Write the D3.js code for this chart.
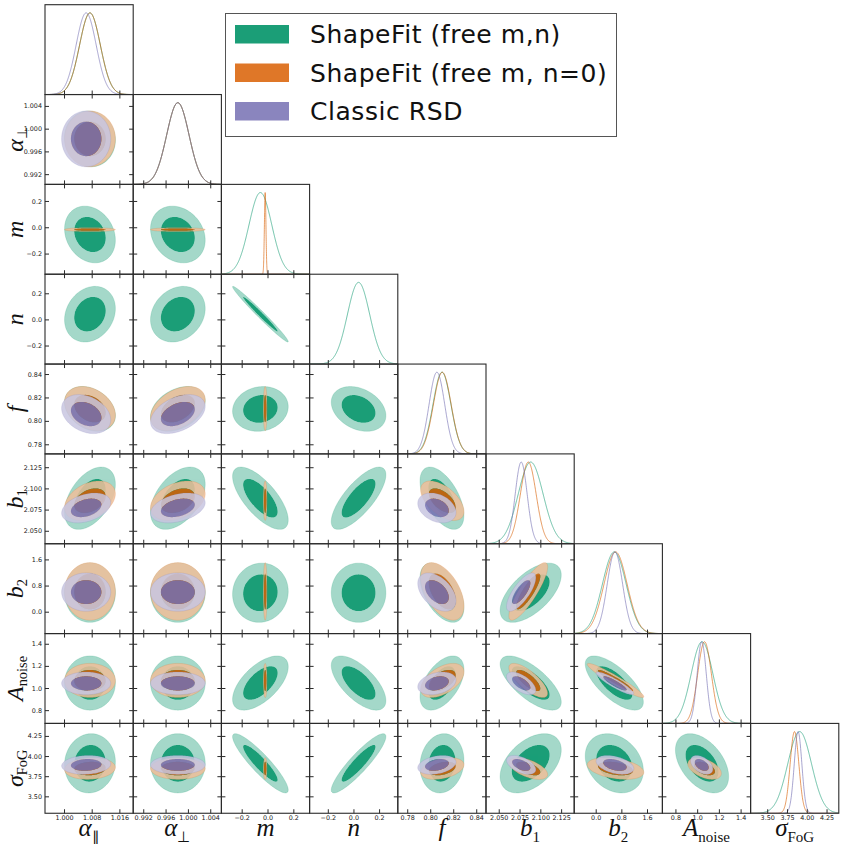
<!DOCTYPE html>
<html><head><meta charset="utf-8">
<script src="https://cdn.jsdelivr.net/npm/d3@7"></script>
<style>body{margin:0;background:#fff}</style>
</head><body>
<svg id="c" width="843" height="844"></svg>
<script>
// ---------------- data ----------------
const paramNames = ["alpha_par","alpha_perp","m","n","f","b1","b2","A_noise","sigma_FoG"];
const ranges = [[0.9945,1.0200],[0.9902,1.0060],[-0.357,0.326],[-0.342,0.346],[0.7718,0.8485],[2.0347,2.1407],[-0.67,2.08],[0.68,1.492],[3.29,4.405]];
const tickValues = [[1.000,1.008,1.016],[0.992,0.996,1.000,1.004],[-0.2,0.0,0.2],[-0.2,0.0,0.2],[0.78,0.80,0.82,0.84],[2.050,2.075,2.100,2.125],[0.0,0.8,1.6],[0.8,1.0,1.2,1.4],[3.50,3.75,4.00,4.25]];
const tickFormats = [".3f",".3f",".1f",".1f",".2f",".3f",".1f",".1f",".2f"];

const seriesNames = ["ShapeFit (free m,n)","ShapeFit (free m, n=0)","Classic RSD"];
const seriesColors = ["#1b9e77","#d95f02","#7570b3"];
const seriesAlpha = [1.0, 0.85, 0.85];

// means / standard deviations per parameter (null = not sampled)
const meanFreeMN   = [1.0075, 0.9982, -0.055, 0.040, 0.8102, 2.0884, 0.58, 1.045, 3.910];
const sdFreeMN     = [0.0030, 0.0020,  0.088, 0.087, 0.0078, 0.0150, 0.37, 0.100, 0.150];
const meanFreeM    = [1.0075, 0.9982, -0.018, null,  0.8105, 2.0855, 0.62, 1.068, 3.845];
const sdFreeM      = [0.0030, 0.0020,  0.006, null,  0.0077, 0.0095, 0.36, 0.063, 0.055];
const meanClassic  = [1.0064, 0.9982,  null,  null,  0.8058, 2.0770, 0.60, 1.042, 3.890];
const sdClassic    = [0.0029, 0.0020,  null,  null,  0.0068, 0.0072, 0.24, 0.042, 0.048];

// lower-triangle correlations: row j lists corr(param j, param i) for i<j
const corrFreeMN = [[],
  [-0.05],
  [-0.20,-0.20],
  [ 0.20, 0.20,-0.985],
  [-0.30, 0.35, 0.10,-0.30],
  [ 0.45, 0.45,-0.70, 0.75,-0.55],
  [ 0.00, 0.00, 0.05, 0.00,-0.50, 0.60],
  [ 0.00, 0.00, 0.60,-0.65, 0.50,-0.70,-0.70],
  [ 0.05, 0.00,-0.90, 0.90, 0.10, 0.45,-0.25,-0.45]];
const corrFreeM = [[],
  [0.00],
  [0.00,0.00],
  [null,null,null],
  [-0.30,0.40,0.00,null],
  [0.35,0.35,0.00,null,-0.55],
  [0.00,0.00,0.00,null,-0.50,0.85],
  [0.00,0.00,0.00,null,0.50,-0.75,-0.95],
  [0.10,0.00,0.00,null,0.35,-0.55,-0.35,-0.45]];
const corrClassic = [[],
  [0.00],
  [null,null],
  [null,null,null],
  [-0.30,0.40,null,null],
  [0.35,0.35,null,null,-0.30],
  [0.00,0.00,null,null,-0.45,0.75],
  [0.00,0.00,null,null,0.30,-0.60,-0.90],
  [0.10,0.00,null,null,0.30,-0.50,-0.40,-0.45]];

const seriesMeans = [meanFreeMN, meanFreeM, meanClassic];
const seriesSds = [sdFreeMN, sdFreeM, sdClassic];
const seriesCorr = [corrFreeMN, corrFreeM, corrClassic];
const contourRadii = [2.45, 1.52]; // 95% and 68% 2D levels (in sigma units)

// ---------------- layout ----------------
const svg = d3.select("#c");
const N = 9, L = 45, T = 4.7, CW = 88.2, CH = 89.84;
const frameColor = "#2b2b2b";
const tickFont = 6.4;
let clipId = 0;

function lighten(col) { return d3.interpolateRgb(col, "#ffffff")(0.6); }

function addClip(x, y, w, h) {
  const id = "clip" + (clipId++);
  svg.append("clipPath").attr("id", id).append("rect").attr("x", x).attr("y", y).attr("width", w).attr("height", h);
  return "url(#" + id + ")";
}

const ang = d3.range(0, 121).map(k => k / 120 * 2 * Math.PI);

for (let r = 0; r < N; r++) {
  for (let c = 0; c <= r; c++) {
    const x0 = L + c * CW, y0 = T + r * CH;
    const xs = d3.scaleLinear().domain(ranges[c]).range([x0, x0 + CW]);
    const g = svg.append("g");
    const inner = g.append("g").attr("clip-path", addClip(x0, y0, CW, CH));
    if (r === c) {
      const ys = d3.scaleLinear().domain([0, 1.1]).range([y0 + CH, y0]);
      const xsamp = d3.range(0, 401).map(k => ranges[c][0] + (ranges[c][1] - ranges[c][0]) * k / 400);
      seriesMeans.forEach((means, s) => {
        const mu = means[c], sd = seriesSds[s][c];
        if (mu === null) return;
        let pts = xsamp.slice();
        if (sd < (ranges[c][1]-ranges[c][0]) / 60) {
          pts = pts.concat(d3.range(0, 201).map(k => mu - 5*sd + 10*sd*k/200)).sort((a,b)=>a-b);
        }
        const line = d3.line().x(v => xs(v)).y(v => ys(Math.exp(-0.5 * ((v - mu) / sd) ** 2)));
        inner.append("path").attr("d", line(pts)).attr("fill", "none")
          .attr("stroke", seriesColors[s]).attr("stroke-width", 1).attr("stroke-opacity", 0.62);
      });
      g.append("g").attr("transform", `translate(0,${y0 + CH})`)
        .call(d3.axisBottom(xs).tickValues(tickValues[c]).tickSizeInner(-4).tickSizeOuter(0).tickFormat(""))
        .call(a => a.select(".domain").remove())
        .selectAll("line").attr("stroke", frameColor);
    } else {
      const ys = d3.scaleLinear().domain(ranges[r]).range([y0 + CH, y0]);
      seriesMeans.forEach((means, s) => {
        const mx = means[c], my = means[r];
        if (mx === null || my === null) return;
        const sx = seriesSds[s][c], sy = seriesSds[s][r];
        const rho = seriesCorr[s][r][c];
        if (rho === null) return;
        const q = Math.sqrt(1 - rho * rho);
        const line = d3.line().x(p => xs(p[0])).y(p => ys(p[1])).curve(d3.curveLinearClosed);
        const ring = k => line(ang.map(t => {
          const u = Math.cos(t), v = Math.sin(t);
          return [mx + k * sx * u, my + k * sy * (rho * u + q * v)];
        }));
        const outerD = ring(contourRadii[0]), innerD = ring(contourRadii[1]);
        const sg = inner.append("g").attr("opacity", seriesAlpha[s]);
        sg.append("path").attr("d", outerD + innerD).attr("fill-rule", "evenodd")
          .attr("fill", lighten(seriesColors[s]));
        sg.append("path").attr("d", innerD).attr("fill", seriesColors[s]);
        sg.append("path").attr("d", outerD).attr("fill", "none")
          .attr("stroke", seriesColors[s]).attr("stroke-opacity", 0.3).attr("stroke-width", 0.6);
      });
      const tk = (axis, tr) => g.append("g").attr("transform", tr)
        .call(axis.tickSizeOuter(0).tickFormat(""))
        .call(a => a.select(".domain").remove())
        .selectAll("line").attr("stroke", frameColor);
      tk(d3.axisBottom(xs).tickValues(tickValues[c]).tickSizeInner(-4), `translate(0,${y0 + CH})`);
      tk(d3.axisTop(xs).tickValues(tickValues[c]).tickSizeInner(-4), `translate(0,${y0})`);
      tk(d3.axisLeft(ys).tickValues(tickValues[r]).tickSizeInner(-4), `translate(${x0},0)`);
      tk(d3.axisRight(ys).tickValues(tickValues[r]).tickSizeInner(-4), `translate(${x0 + CW},0)`);
      if (c === 0) {
        g.append("g").attr("transform", `translate(${x0},0)`)
          .call(d3.axisLeft(ys).tickValues(tickValues[r]).tickSizeInner(0).tickSizeOuter(0).tickPadding(3)
            .tickFormat(d3.format(tickFormats[r])))
          .call(a => a.select(".domain").remove())
          .selectAll("text").attr("font-family", "DejaVu Sans").attr("font-size", tickFont).attr("fill", "#222");
      }
    }
    if (r === N - 1) {
      g.append("g").attr("transform", `translate(0,${y0 + CH})`)
        .call(d3.axisBottom(xs).tickValues(tickValues[c]).tickSizeInner(0).tickSizeOuter(0).tickPadding(2)
          .tickFormat(d3.format(tickFormats[c])))
        .call(a => a.select(".domain").remove())
        .selectAll("text").attr("font-family", "DejaVu Sans").attr("font-size", tickFont).attr("fill", "#222");
    }
    g.append("rect").attr("x", x0).attr("y", y0).attr("width", CW).attr("height", CH)
      .attr("fill", "none").attr("stroke", frameColor).attr("stroke-width", 1.1);
  }
}

// ---------------- axis labels ----------------
const labelDefs = [
  {main: "α", sub: "∥"}, {main: "α", sub: "⊥"}, {main: "m", sub: ""}, {main: "n", sub: ""},
  {main: "f", sub: ""}, {main: "b", sub: "1"}, {main: "b", sub: "2"},
  {main: "A", sub: "noise"}, {main: "σ", sub: "FoG"}
];
function writeLabel(sel, d, size, subDy) {
  sel.attr("font-family", "Liberation Serif").attr("font-size", size).attr("fill", "#111");
  sel.append("tspan").attr("font-style", "italic").text(d.main);
  if (d.sub) sel.append("tspan").attr("font-size", size * 0.6).attr("dy", subDy).text(d.sub);
}
labelDefs.forEach((d, i) => {
  const cx = L + i * CW + CW / 2;
  svg.append("text").attr("x", cx).attr("y", 836).attr("text-anchor", "middle").call(s => writeLabel(s, d, 25, 6));
  if (i > 0) {
    const cy = T + i * CH + CH / 2;
    svg.append("text").attr("transform", `translate(23,${cy}) rotate(-90)`).attr("text-anchor", "middle")
      .call(s => writeLabel(s, d, 24, 4));
  }
});

// ---------------- legend ----------------
const lg = svg.append("g");
lg.append("rect").attr("x", 225.5).attr("y", 13.5).attr("width", 391).attr("height", 123)
  .attr("fill", "#fff").attr("stroke", "#555").attr("stroke-width", 1);
seriesNames.forEach((name, i) => {
  const yy = 25 + i * 38.5;
  lg.append("rect").attr("x", 235).attr("y", yy).attr("width", 54).attr("height", 18.5)
    .attr("fill", seriesColors[i]).attr("fill-opacity", seriesAlpha[i]);
  lg.append("text").attr("x", 310).attr("y", yy + 18.3).attr("font-family", "DejaVu Sans")
    .attr("font-size", 25).attr("letter-spacing", 0.55).attr("fill", "#111").text(name);
});
</script>
</body></html>
